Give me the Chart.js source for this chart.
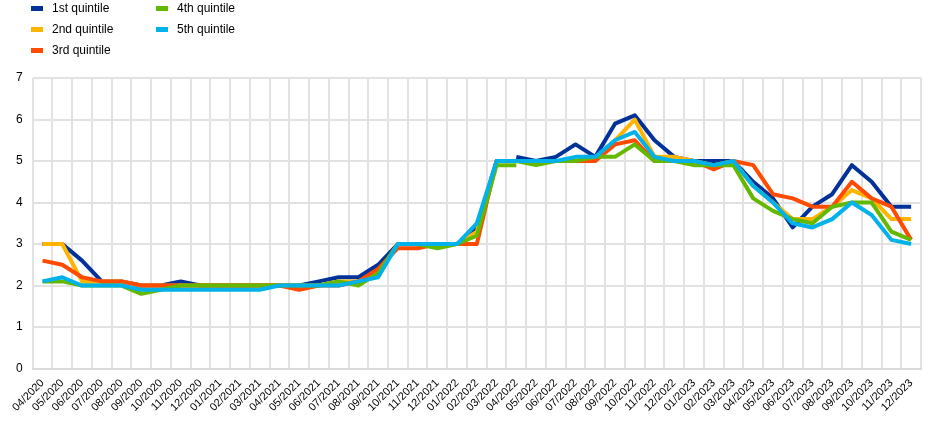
<!DOCTYPE html>
<html>
<head>
<meta charset="utf-8">
<script src="https://cdn.jsdelivr.net/npm/chart.js@4/dist/chart.umd.min.js"></script>
<style>
  html, body { margin: 0; padding: 0; background: #fff; }
  #wrap { position: relative; width: 945px; height: 426px; }
  canvas { position: absolute; left: 0; top: 0; }
  .lg { position: absolute; font-family: "Liberation Sans", Arial, sans-serif; font-size: 12px; color: #000; line-height: 14px; white-space: nowrap; }
  .mk { position: absolute; width: 12px; height: 5px; }
</style>
</head>
<body>
<div id="wrap">
  <canvas id="c" width="945" height="426"></canvas>
  <div id="legend"></div>
</div>
<script>
// ---- Data ----
const months = ["04/2020","05/2020","06/2020","07/2020","08/2020","09/2020","10/2020","11/2020","12/2020",
  "01/2021","02/2021","03/2021","04/2021","05/2021","06/2021","07/2021","08/2021","09/2021","10/2021","11/2021","12/2021",
  "01/2022","02/2022","03/2022","04/2022","05/2022","06/2022","07/2022","08/2022","09/2022","10/2022","11/2022","12/2022",
  "01/2023","02/2023","03/2023","04/2023","05/2023","06/2023","07/2023","08/2023","09/2023","10/2023","11/2023","12/2023"];

const seriesNames = ["1st quintile", "2nd quintile", "3rd quintile", "4th quintile", "5th quintile"];
const yTicks = [0, 1, 2, 3, 4, 5, 6, 7];

// First segment: 04/2020 - 04/2022
const q1Old = [3.0,3.0,2.6,2.1,2.1,2.0,2.0,2.1,2.0,2.0,2.0,2.0,2.0,2.0,2.1,2.2,2.2,2.5,3.0,3.0,3.0,3.0,3.4,5.0,5.0];
const q2Old = [3.0,3.0,2.1,2.1,2.1,2.0,2.0,2.0,2.0,2.0,2.0,2.0,2.0,2.0,2.0,2.1,2.1,2.3,3.0,3.0,3.0,3.0,3.3,5.0,5.0];
const q3Old = [2.6,2.5,2.2,2.1,2.1,2.0,2.0,2.0,2.0,2.0,2.0,2.0,2.0,1.9,2.0,2.0,2.1,2.4,2.9,2.9,3.0,3.0,3.0,5.0,5.0];
const q4Old = [2.1,2.1,2.0,2.0,2.0,1.8,1.9,2.0,2.0,2.0,2.0,2.0,2.0,2.0,2.0,2.1,2.0,2.3,3.0,3.0,2.9,3.0,3.2,4.9,4.9];
const q5Old = [2.1,2.2,2.0,2.0,2.0,1.9,1.9,1.9,1.9,1.9,1.9,1.9,2.0,2.0,2.0,2.0,2.1,2.2,3.0,3.0,3.0,3.0,3.5,5.0,5.0];

// Second segment: 04/2022 - 12/2023
const q1New = [5.1,5.0,5.1,5.4,5.1,5.9,6.1,5.5,5.1,5.0,5.0,5.0,4.5,4.1,3.4,3.9,4.2,4.9,4.5,3.9,3.9];
const q2New = [5.0,5.0,5.0,5.0,5.0,5.5,6.0,5.1,5.1,5.0,4.9,5.0,4.4,4.0,3.6,3.6,3.9,4.3,4.1,3.6,3.6];
const q3New = [5.0,5.0,5.0,5.0,5.0,5.4,5.5,5.0,5.0,5.0,4.8,5.0,4.9,4.2,4.1,3.9,3.9,4.5,4.1,3.9,3.1];
const q4New = [5.0,4.9,5.0,5.0,5.1,5.1,5.4,5.0,5.0,4.9,4.9,4.9,4.1,3.8,3.6,3.5,3.9,4.0,4.0,3.3,3.1];
const q5New = [5.0,5.0,5.0,5.1,5.1,5.5,5.7,5.1,5.0,5.0,4.9,5.0,4.4,4.0,3.5,3.4,3.6,4.0,3.7,3.1,3.0];

const colors = ["#003299", "#ffb400", "#ff4b00", "#65b800", "#00b1ea"];

// ---- Build datasets ----
const oldSets = [q1Old, q2Old, q3Old, q4Old, q5Old];
const newSets = [q1New, q2New, q3New, q4New, q5New];
const nNew = months.length - newSets[0].length; // start index of new segment

function padOld(arr) { return arr.concat(new Array(months.length - arr.length).fill(null)); }
function padNew(arr) { return new Array(nNew).fill(null).concat(arr); }

const datasets = [];
seriesNames.forEach((name, k) => {
  const common = {
    borderColor: colors[k], backgroundColor: colors[k], borderWidth: 4,
    pointRadius: 0, pointHoverRadius: 0, tension: 0, fill: false, spanGaps: false,
    order: 4 - k, borderJoinStyle: 'round'
  };
  datasets.push(Object.assign({ label: name, data: padOld(oldSets[k]) }, common));
  datasets.push(Object.assign({ label: name + " ", data: padNew(newSets[k]) }, common));
});

// ---- HTML legend ----
const legendPos = [
  { x: 31, y: 8 }, { x: 31, y: 29 }, { x: 31, y: 50 }, { x: 156, y: 8 }, { x: 156, y: 29 }
];
const lg = document.getElementById('legend');
seriesNames.forEach((name, k) => {
  const p = legendPos[k];
  const mk = document.createElement('div');
  mk.className = 'mk';
  mk.style.left = p.x + 'px'; mk.style.top = (p.y - 2) + 'px'; mk.style.background = colors[k];
  lg.appendChild(mk);
  const t = document.createElement('div');
  t.className = 'lg';
  t.style.left = (p.x + 21) + 'px'; t.style.top = (p.y - 7) + 'px';
  t.textContent = name;
  lg.appendChild(t);
});

// ---- Chart ----
Chart.defaults.font.family = '"Liberation Sans", Arial, sans-serif';
Chart.defaults.color = '#000';

new Chart(document.getElementById('c'), {
  type: 'line',
  data: { labels: months, datasets: datasets },
  options: {
    responsive: false,
    animation: false,
    devicePixelRatio: 1,
    layout: { padding: { top: 78, right: 24, left: 6, bottom: 4 } },
    plugins: { legend: { display: false }, tooltip: { enabled: false } },
    scales: {
      x: {
        offset: true,
        grid: { offset: true, color: '#e2e2e2', lineWidth: 2, drawTicks: false },
        border: { color: '#d9d9d9', width: 2 },
        ticks: { autoSkip: false, maxRotation: 45, minRotation: 45, font: { size: 11 }, padding: 8 }
      },
      y: {
        min: 0, max: 7,
        afterBuildTicks: (axis) => { axis.ticks = yTicks.map(v => ({ value: v })); },
        grid: { color: '#e2e2e2', lineWidth: 2, drawTicks: false },
        border: { display: false },
        ticks: { font: { size: 12 }, padding: 10 }
      }
    }
  }
});
</script>
</body>
</html>
